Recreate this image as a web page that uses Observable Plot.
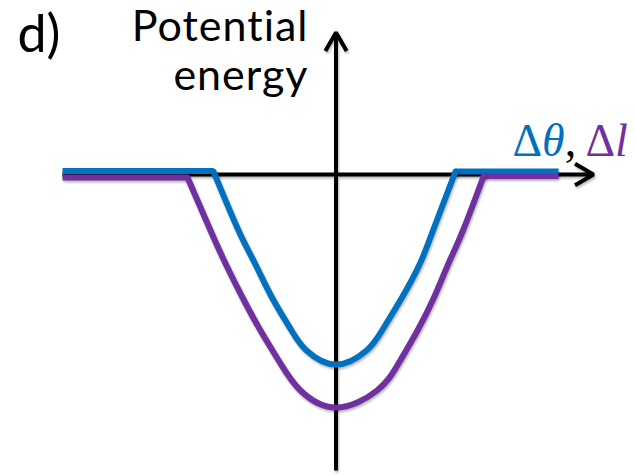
<!DOCTYPE html>
<html>
<head>
<meta charset="utf-8">
<script src="https://cdn.jsdelivr.net/npm/d3@7"></script>
<script src="https://cdn.jsdelivr.net/npm/@observablehq/plot@0.6"></script>
<style>
  body { margin: 0; background: #fff; }
  #chart svg g[aria-label="line"],
  #chart svg g[aria-label="arrow"] {
    filter: drop-shadow(1px 2px 1.2px rgba(0, 0, 0, 0.28));
  }
</style>
</head>
<body>
<div id="chart"></div>
<script>
// Potential energy wells (arbitrary units): displacement vs energy.
const blue = "#0070C0";
const purple = "#7030A0";

// angular well (Δθ)
const thetaX = [-1.225, -0.975, -0.81, -0.64, -0.445, -0.295, 0, 0.305, 0.46, 0.66, 0.84, 0.97, 1.195];
const thetaU = [0.03, -0.56, -0.89, -1.23, -1.56, -1.76, -1.90, -1.76, -1.56, -1.23, -0.89, -0.56, 0.03];
const thetaPlateauX = [[-2.735, -1.225], [1.195, 2.225]];
const thetaPlateauU = [0.035, 0.03];

// length well (Δl)
const lengthX = [-1.485, -1.255, -1.105, -0.935, -0.755, -0.555, -0.355, 0, 0.41, 0.625, 0.815, 0.98, 1.125, 1.27, 1.475];
const lengthU = [-0.03, -0.56, -0.89, -1.23, -1.56, -1.89, -2.16, -2.33, -2.16, -1.89, -1.56, -1.23, -0.89, -0.56, -0.02];
const lengthPlateauX = [[-2.735, -1.485], [1.475, 2.225]];
const lengthPlateauU = [-0.03, -0.015];

// axis extents
const xAxisSpan = [-2.735, 2.575];
const yAxisSpan = [-2.96, 1.42];

const toPoints = (xs, us) => xs.map((x, i) => ({x, u: us[i]}));
const plateaus = (spans, us) => spans.flatMap(([a, b], k) => [
  {x: a, u: us[k], seg: k},
  {x: b, u: us[k], seg: k}
]);

const axes = [
  {x1: xAxisSpan[0], y1: 0, x2: xAxisSpan[1], y2: 0},
  {x1: 0, y1: yAxisSpan[0], x2: 0, y2: yAxisSpan[1]}
];

const chart = Plot.plot({
  width: 635,
  height: 475,
  margin: 0,
  x: {domain: [-3.355, 2.995], axis: null},
  y: {domain: [-3.01, 1.74], axis: null},
  marks: [
    Plot.arrow(axes, {
      x1: "x1", y1: "y1", x2: "x2", y2: "y2",
      stroke: "black", strokeWidth: 4, headLength: 8, headAngle: 60,
      strokeLinecap: "butt", strokeLinejoin: "miter"
    }),
    Plot.line(plateaus(thetaPlateauX, thetaPlateauU), {
      x: "x", y: "u", z: "seg", stroke: blue, strokeWidth: 6, strokeLinecap: "butt"
    }),
    Plot.line(toPoints(thetaX, thetaU), {
      x: "x", y: "u", stroke: blue, strokeWidth: 6, curve: "natural", strokeLinecap: "round"
    }),
    Plot.line(plateaus(lengthPlateauX, lengthPlateauU), {
      x: "x", y: "u", z: "seg", stroke: purple, strokeWidth: 6, strokeLinecap: "butt"
    }),
    Plot.line(toPoints(lengthX, lengthU), {
      x: "x", y: "u", stroke: purple, strokeWidth: 6, curve: "natural", strokeLinecap: "round"
    }),
    Plot.text(["d)"], {
      frameAnchor: "top-left", dx: 17, dy: 15, lineAnchor: "top", textAnchor: "start",
      fontSize: 52, fontFamily: "Lato", fill: "black"
    }),
    Plot.text(["Potential\nenergy"], {
      frameAnchor: "top-left", dx: 308, dy: 6, lineAnchor: "top", textAnchor: "end",
      lineHeight: 1.14, fontSize: 43, fontFamily: "Lato", fill: "black"
    }),
    Plot.text(["Δθ,Δl"], {
      frameAnchor: "top-left", dx: 512, dy: 123, lineAnchor: "top", textAnchor: "start",
      fontSize: 46, fontFamily: "Liberation Serif", fill: "black"
    })
  ]
});

// slightly open tracking on the y-axis title
d3.select(chart).selectAll("text").filter(function () { return this.textContent.startsWith("Potential"); })
  .attr("letter-spacing", "1px");

// colour the two variable names of the x-axis label
d3.select(chart).selectAll("text").filter(function () { return this.textContent === "Δθ,Δl"; })
  .each(function () {
    const t = d3.select(this).text(null);
    const parts = [
      {s: "Δ", fill: blue, italic: false},
      {s: "θ", fill: blue, italic: true},
      {s: ",", fill: "black", italic: false},
      {s: "\u2009Δ", fill: purple, italic: false},
      {s: "l", fill: purple, italic: true}
    ];
    for (const p of parts) {
      t.append("tspan").attr("fill", p.fill).attr("font-style", p.italic ? "italic" : "normal").text(p.s);
    }
  });

document.getElementById("chart").append(chart);
</script>
</body>
</html>
